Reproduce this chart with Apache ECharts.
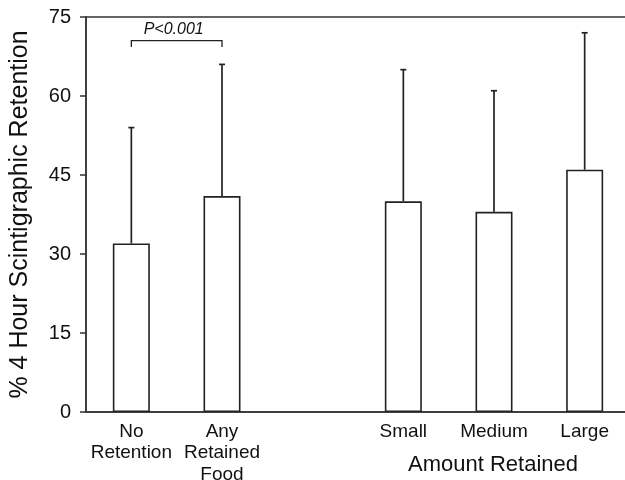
<!DOCTYPE html>
<html>
<head>
<meta charset="utf-8">
<script src="https://cdn.jsdelivr.net/npm/echarts@6/dist/echarts.min.js"></script>
<style>html,body{margin:0;padding:0;background:#fff}#c{width:625px;height:480px}</style>
</head>
<body>
<div id="c"></div>
<script>
var categories = ['No\nRetention', 'Any\nRetained\nFood', '', 'Small', 'Medium', 'Large'];
var means = [32, 41, null, 40, 38, 46];
var upperErr = [54, 66, null, 65, 61, 72];
var yTicks = [0, 15, 30, 45, 60, 75];
var groupLabel = 'Amount Retained';
var groupCategory = 'Medium';
var sigFrom = 0, sigTo = 1, sigLevel = 70.5, sigTip = 69.3, sigText = 'P<0.001';

var FONT = '"Liberation Sans", Arial, sans-serif';
var chart = echarts.init(document.getElementById('c'), null, {renderer: 'canvas'});

var errData = [];
for (var i = 0; i < categories.length; i++) {
  if (means[i] != null) errData.push([i, means[i], upperErr[i]]);
}

chart.setOption({
  animation: false,
  grid: {left: 86, top: 17, width: 544, bottom: 68, outerBoundsMode: 'none', containLabel: false,
         show: true, borderColor: '#333', borderWidth: 1.5, backgroundColor: 'transparent'},
  xAxis: {
    type: 'category', data: categories,
    axisLine: {show: true, lineStyle: {color: '#333', width: 1.5}},
    axisTick: {show: false},
    axisLabel: {color: '#111', fontSize: 19, fontFamily: FONT, lineHeight: 21.5, margin: 9, interval: 0}
  },
  yAxis: {
    type: 'value', min: yTicks[0], max: yTicks[yTicks.length - 1], interval: 15,
    name: '% 4 Hour Scintigraphic Retention', nameLocation: 'middle', nameGap: 53,
    nameTextStyle: {color: '#111', fontSize: 25, fontFamily: FONT},
    axisLine: {show: true, lineStyle: {color: '#333', width: 1.5}},
    axisTick: {show: true, length: 6, inside: false, lineStyle: {color: '#333', width: 1.5}},
    axisLabel: {color: '#111', fontSize: 20, fontFamily: FONT, margin: 15},
    splitLine: {show: false}
  },
  series: [
    {
      type: 'bar', data: means, barWidth: 37,
      itemStyle: {color: '#ffffff', borderColor: '#222', borderWidth: 1.6}
    },
    {
      type: 'custom', data: errData, z: 1,
      renderItem: function (params, api) {
        var x = api.value(0);
        var p0 = api.coord([x, api.value(1)]);
        var p1 = api.coord([x, api.value(2)]);
        return {type: 'group', children: [
          {type: 'line', shape: {x1: p0[0], y1: p0[1], x2: p1[0], y2: p1[1]}, style: {stroke: '#222', lineWidth: 1.7}},
          {type: 'line', shape: {x1: p1[0] - 3, y1: p1[1], x2: p1[0] + 3, y2: p1[1]}, style: {stroke: '#222', lineWidth: 1.7}}
        ]};
      }
    },
    {
      type: 'custom', data: [[sigFrom, sigTo, sigLevel, sigTip]],
      renderItem: function (params, api) {
        var a = api.coord([api.value(0), api.value(2)]);
        var b = api.coord([api.value(1), api.value(2)]);
        var ta = api.coord([api.value(0), api.value(3)]);
        return {type: 'group', children: [
          {type: 'polyline', shape: {points: [[a[0], ta[1]], [a[0], a[1]], [b[0], b[1]], [b[0], ta[1]]]}, style: {stroke: '#222', lineWidth: 1.3, fill: null}},
          {type: 'text', style: {text: sigText, x: (a[0] + b[0]) / 2 - 3, y: a[1] - 3, textAlign: 'center', textVerticalAlign: 'bottom', fontSize: 16, fontStyle: 'italic', fontFamily: FONT, fill: '#111'}}
        ]};
      }
    }
  ]
});

var gx = chart.convertToPixel({xAxisIndex: 0}, groupCategory);
chart.setOption({
  graphic: [{type: 'text', left: gx - 86, top: 454, style: {text: groupLabel, fontSize: 22, fontFamily: FONT, fill: '#111'}}]
});
</script>
</body>
</html>
